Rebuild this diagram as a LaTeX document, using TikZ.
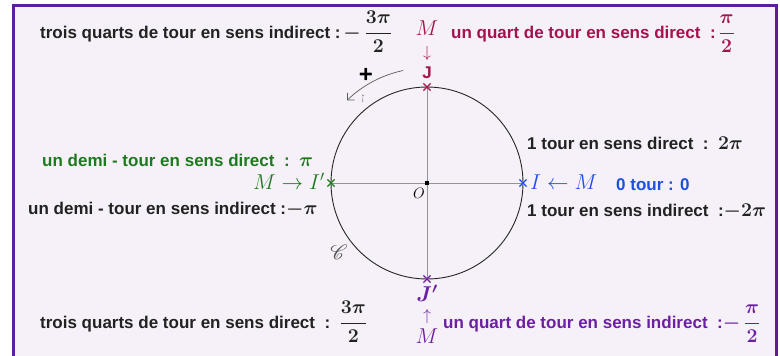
\RequirePackage{fix-cm}
\documentclass[tikz,border=0pt]{standalone}
\usepackage[no-math]{fontspec}
\setmainfont{Liberation Sans}
\usepackage{amsmath,amssymb,bm,mathrsfs}
\usepackage{tikz}
\usetikzlibrary{arrows.meta,positioning,shapes.misc,backgrounds}
\definecolor{fondcadre}{HTML}{F6F1F8}
\definecolor{bordcadre}{HTML}{5C1E9C}
\definecolor{rougeJ}{HTML}{A3134F}
\definecolor{vertI}{HTML}{1E7A1E}
\definecolor{bleuI}{HTML}{1F4FE0}
\definecolor{violetJ}{HTML}{6C1FA3}
\definecolor{texte}{HTML}{222222}
\DeclareMathSizes{17}{19.5}{14}{10}
\DeclareMathSizes{18}{21.5}{15}{11}
\DeclareMathSizes{16}{16}{12}{9}
\newcommand{\fracb}[2]{\dfrac{#1}{#2}}

\begin{document}
\begin{tikzpicture}[
  x=1pt, y=-1pt,
  txt/.style={font=\bfseries\boldmath\fontsize{17}{20}\selectfont, text=texte, inner sep=0pt, anchor=base west},
  pnt/.style={cross out, draw, line width=1.2pt, minimum size=6pt, inner sep=0pt},
  axe/.style={draw=gray!85, line width=0.9pt},
  lettre/.style={font=\fontsize{18}{20}\selectfont, inner sep=0pt, anchor=base},
  fleche/.style={font=\fontsize{16}{16}\selectfont, inner sep=0pt, anchor=base},
  sens/.style={-{Straight Barb[length=5pt]}, draw=black!65, line width=0.7pt}
]
\useasboundingbox (0,0) rectangle (780,356);

% cercle et axes
\node[pnt, draw=bleuI] (I) at (523,183) {};
\node[pnt, draw=vertI] (Ip) at (331,183) {};
\node[pnt, draw=rougeJ] (J) at (427,87) {};
\node[pnt, draw=violetJ] (Jp) at (427,279) {};
\node[fill=black, draw=black, minimum size=3pt, inner sep=0pt] (O) at (427,183) {};
\begin{scope}[on background layer]
  \fill[white] (0,0) rectangle (780,356);
  \draw[fill=fondcadre, draw=bordcadre, line width=3pt] (13.5,5.5) rectangle (776,372);
  \draw[axe] (Ip.center) -- (I.center);
  \draw[axe] (J.center) -- (Jp.center);
  \draw[line width=0.9pt, draw=black!85] (O.center) circle[radius=96pt];
\end{scope}
\node[lettre, font=\fontsize{15}{16}\selectfont] (Onom) at (419,198) {$O$};
\node[lettre, font=\fontsize{17}{18}\selectfont, text=black!70] (C) at (339,259) {$\mathscr{C}$};

% sens direct
\draw[sens] (O.center) ++(102:115pt) arc[start angle=102, end angle=134, radius=115pt];
\node[font=\bfseries\fontsize{24}{24}\selectfont, inner sep=0pt] (plus) at (366,75) {+};
\node[font=\fontsize{5}{5}\selectfont, align=center, inner sep=0pt, text=black!70] (jmin) at (363,99) {+\\[-1pt]j};

% J : un quart de tour direct
\node[lettre, text=rougeJ, font=\bfseries\fontsize{17}{20}\selectfont] (Jlet) at (427,78) {J};
\node[fleche, text=rougeJ] (Jfl) at (427,57) {$\downarrow$};
\node[lettre, text=rougeJ] (JM) at (427,35) {$M$};
\node[txt, text=rougeJ] (quartD) at (451,38) {un quart de tour en sens direct\ \ :\,$\fracb{\pi}{2}$};
\node[txt] (tqI) at (40,38) {trois quarts de tour en sens indirect :\,$-\,\fracb{3\pi}{2}$};

% I' : demi-tour
\node[txt, text=vertI] (demiD) at (42,166) {un demi - tour en sens direct\ \ :\ \ $\pi$};
\node[lettre, text=vertI, anchor=base east] (IpM) at (325,189) {$M\rightarrow I'$};
\node[txt] (demiI) at (28,214) {un demi - tour en sens indirect :$-\pi$};

% I : un tour
\node[txt] (tourD) at (527,149) {1 tour en sens direct\ \ :\ \ $2\pi$};
\node[lettre, text=bleuI, anchor=base west] (IM) at (530,189) {$I\leftarrow M$};
\node[txt, text=bleuI] (zero) at (616,190) {0 tour : 0};
\node[txt] (tourI) at (527,216) {1 tour en sens indirect\ \ :$-2\pi$};

% J' : un quart de tour indirect
\node[lettre, text=violetJ] (Jpnom) at (427,301) {$\bm{J'}$};
\node[fleche, text=violetJ] (Jpfl) at (427,320) {$\uparrow$};
\node[lettre, text=violetJ] (JpM) at (427,343) {$M$};
\node[txt, text=violetJ] (quartI) at (443,328) {un quart de tour en sens indirect\ \ :$-\,\fracb{\pi}{2}$};
\node[txt] (tqD) at (40,328) {trois quarts de tour en sens direct\ \ :\ \ $\fracb{3\pi}{2}$};
\end{tikzpicture}
\end{document}
